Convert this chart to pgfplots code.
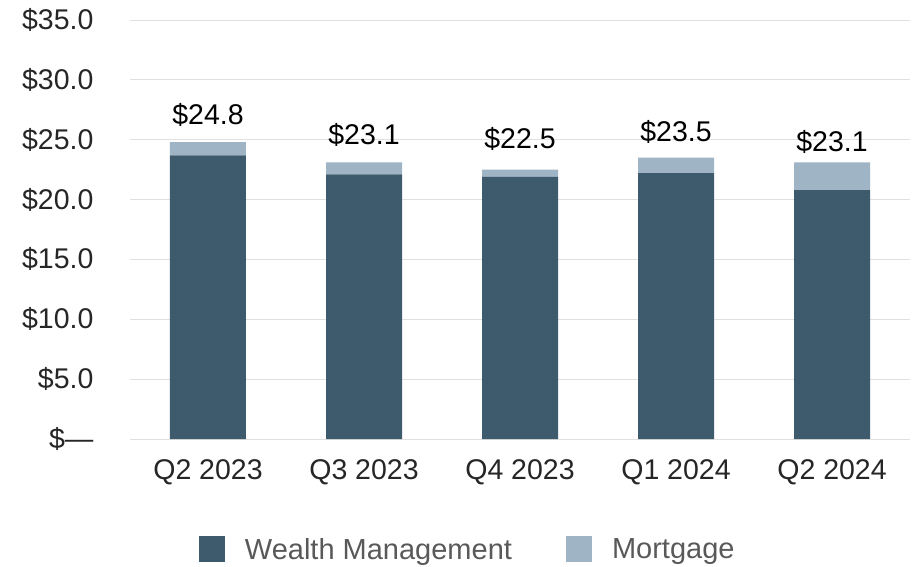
\documentclass[border=0pt]{standalone}
\usepackage{pgfplots}
\pgfplotsset{compat=1.18}
\usepackage{fontspec}
\setmainfont{Liberation Sans}
\definecolor{wm}{HTML}{3E5B6D}
\definecolor{mort}{HTML}{9FB4C5}
\definecolor{gridc}{HTML}{E0E0E0}
\definecolor{legtext}{HTML}{595959}
\begin{document}
\begin{tikzpicture}
\useasboundingbox (-130pt,-127pt) rectangle (785pt,439pt);
\begin{axis}[
  scale only axis,
  width=780pt, height=419pt,
  ybar stacked,
  bar width=76pt,
  xmin=-0.5, xmax=4.5,
  ymin=0, ymax=35,
  xtick={0,1,2,3,4},
  xticklabels={Q2 2023,Q3 2023,Q4 2023,Q1 2024,Q2 2024},
  ytick={0,5,10,15,20,25,30,35},
  yticklabels={\$---,\$5.0,\$10.0,\$15.0,\$20.0,\$25.0,\$30.0,\$35.0},
  axis line style={draw=none},
  tick style={draw=none},
  ymajorgrids,
  grid style={gridc, line width=1pt},
  tick label style={font=\fontsize{28.5}{33}\selectfont, text=black!85},
  yticklabel style={xshift=-33pt},
  xticklabel style={yshift=-17pt},
  legend style={
    at={(0.433,-0.263)}, anchor=center,
    draw=none, fill=none,
    legend columns=2,
    font=\fontsize{29}{33}\selectfont,
    text=legtext,
    /tikz/every odd column/.append style={column sep=18pt},
    /tikz/every even column/.append style={column sep=52pt},
  },
  legend image code/.code={\fill[#1] (0pt,-12pt) rectangle (26pt,14pt);},
]
\addplot[fill=wm, draw=none] coordinates {(0,23.7) (1,22.1) (2,21.9) (3,22.2) (4,20.8)};
\addplot[fill=mort, draw=none,
  nodes near coords,
  point meta=explicit symbolic,
  every node near coord/.append style={font=\fontsize{28.5}{33}\selectfont, text=black, yshift=34pt},
] coordinates {(0,1.1)[\$24.8] (1,1.0)[\$23.1] (2,0.6)[\$22.5] (3,1.3)[\$23.5] (4,2.3)[\$23.1]};
\legend{Wealth Management, Mortgage}
\end{axis}
\end{tikzpicture}
\end{document}
